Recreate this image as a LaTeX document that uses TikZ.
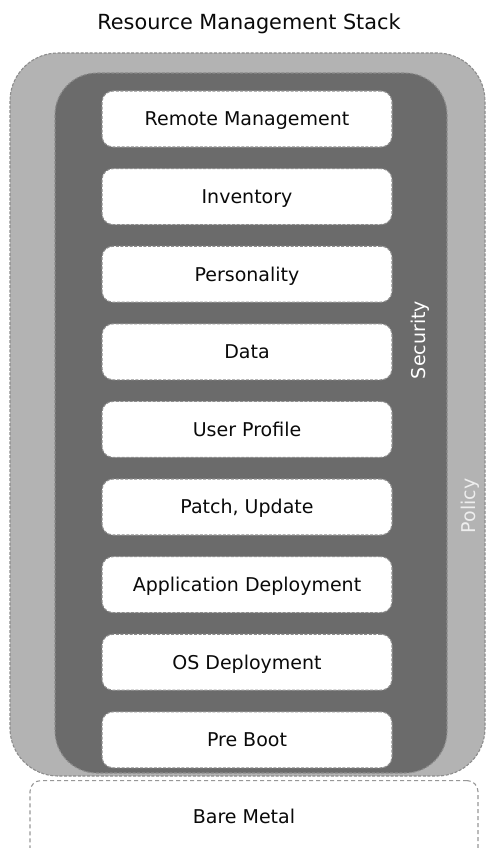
\documentclass[tikz,border=0pt]{standalone}
\usepackage{fontspec}
\setmainfont{DejaVu Sans}
\definecolor{policyfill}{HTML}{B3B3B3}
\definecolor{securityfill}{HTML}{6B6B6B}
\definecolor{edgegray}{HTML}{8C8C8C}
\definecolor{inkblack}{HTML}{0A0A0A}
\definecolor{policytext}{HTML}{EEEEEE}
\tikzset{
  dashedge/.style={draw=edgegray, line width=1.1pt, dash pattern=on 3pt off 1.6pt},
  layer/.style={dashedge, fill=white, rounded corners=11pt, minimum width=290pt,
    minimum height=56pt, inner sep=0pt, text=inkblack, font=\fontsize{19}{21}\selectfont,
    text height=13.8pt, text depth=0pt},
  bandlabel/.style={font=\fontsize{19}{21}\selectfont, rotate=90, inner sep=0pt}
}
\begin{document}
\begin{tikzpicture}[x=1pt,y=-1pt]
\useasboundingbox (0,0) rectangle (488,848);
\fill[white] (0,0) rectangle (488,848);

% title
\node[anchor=base, text=inkblack, font=\fontsize{20.8}{23}\selectfont, inner sep=0pt]
  (title) at (249,30) {Resource Management Stack};

% policy band
\draw[dashedge, fill=policyfill, rounded corners=48pt] (10,53) rectangle (485,776);
% security band
\draw[dashedge, fill=securityfill, rounded corners=42pt] (55,73) rectangle (447,773);

\node[bandlabel, text=white] (security) at (420,340) {Security};
\node[bandlabel, text=policytext] (policy) at (470,506) {Policy};

% stack layers, top to bottom
\foreach \name/\txt [count=\i from 0] in {
    rm/Remote Management, inv/Inventory, pers/Personality, data/Data,
    prof/User Profile, patch/{Patch, Update}, app/Application Deployment,
    os/OS Deployment, boot/Pre Boot}
  \node[layer] (\name) at (247,{119+77.6*\i}) {\txt};

% base layer, open at the bottom edge
\node[draw=edgegray!90, line width=1.1pt, dash pattern=on 4pt off 3pt,
  rounded corners=11pt, minimum width=448pt,
  minimum height=78pt, inner sep=0pt, anchor=north] (metal) at (254,780) {};
\node[anchor=base, text=inkblack, font=\fontsize{19}{21}\selectfont, inner sep=0pt]
  (metaltext) at (244,823) {Bare Metal};
\end{tikzpicture}
\end{document}
